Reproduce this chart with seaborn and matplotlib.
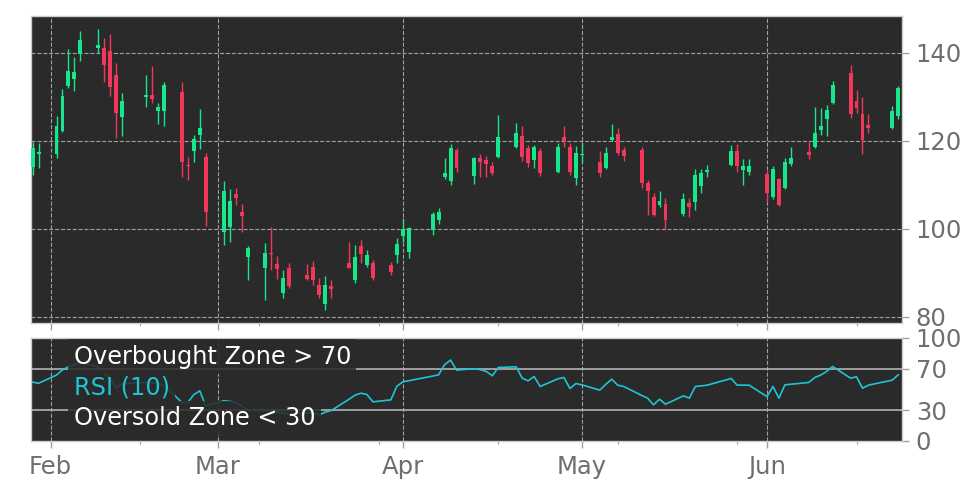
import pandas as pd
import numpy as np
import matplotlib
matplotlib.use('Agg')
import matplotlib.pyplot as plt
import matplotlib.dates as mdates
import matplotlib.ticker as mticker
import seaborn as sns

# trading days shown (US market holidays left out)
holidays = ['2026-02-16', '2026-04-03', '2026-05-25', '2026-06-19']
dates = pd.bdate_range('2026-01-29', '2026-06-23', freq='C', holidays=holidays)

opens = [114.1, 117.0, 117.0, 122.3, 132.5, 134.1, 139.7, 141.2, 141.1, 140.5,
         135.0, 125.5, 130.0, 130.5, 126.9, 126.9, 131.1, 114.6, 117.6, 121.4,
         116.4, 99.4, 100.4, 108.0, 103.9, 93.7, 91.1, 94.4, 92.0, 85.4,
         91.1, 89.5, 91.4, 87.3, 83.0, 87.1, 92.2, 88.4, 96.1, 91.7,
         92.2, 91.7, 94.1, 98.3, 94.8, 99.8, 102.0, 111.9, 110.9, 118.0,
         112.1, 116.1, 115.7, 114.4, 116.4, 118.7, 121.1, 118.3, 115.7, 117.7,
         113.0, 120.8, 118.7, 111.5, 116.7, 115.1, 113.8, 120.2, 121.6, 118.0,
         118.0, 110.5, 107.3, 105.5, 105.7, 103.3, 105.8, 106.1, 109.8, 113.0,
         114.5, 117.7, 113.3, 113.0, 112.5, 107.3, 111.3, 109.4, 114.8, 117.4,
         118.7, 122.5, 124.9, 128.7, 135.5, 129.1, 126.1, 123.6, 123.0, 125.7]
highs = [119.8, 119.5, 125.7, 131.7, 140.8, 139.0, 145.0, 145.4, 143.5, 144.3,
         137.8, 130.8, 135.0, 137.1, 128.6, 133.5, 133.5, 116.4, 121.4, 127.2,
         117.2, 110.8, 109.0, 109.2, 105.7, 96.0, 96.7, 100.5, 93.9, 90.7,
         92.2, 92.0, 92.6, 88.8, 89.2, 88.4, 97.1, 96.4, 97.5, 95.1,
         93.0, 92.5, 97.9, 102.4, 100.5, 103.9, 104.7, 116.1, 119.3, 118.3,
         116.4, 117.0, 116.6, 115.3, 125.9, 124.0, 123.3, 119.1, 119.1, 118.3,
         119.5, 123.4, 119.5, 118.9, 119.8, 117.6, 118.7, 123.8, 123.0, 118.7,
         118.7, 111.1, 108.1, 108.7, 107.0, 108.1, 107.0, 113.6, 113.6, 114.5,
         119.1, 119.3, 115.8, 115.9, 113.4, 114.2, 111.5, 116.1, 118.7, 119.8,
         127.7, 127.4, 128.2, 133.6, 137.3, 131.6, 129.9, 126.1, 128.0, 132.5]
lows = [112.3, 113.9, 116.1, 122.0, 132.0, 131.4, 138.2, 139.9, 133.3, 130.1,
        120.6, 121.1, 127.7, 128.6, 123.9, 123.3, 111.9, 111.1, 115.1, 118.1,
        100.7, 96.4, 97.1, 105.5, 99.2, 88.4, 83.9, 90.7, 88.6, 84.3,
        86.5, 88.4, 87.3, 84.3, 81.6, 84.3, 91.0, 87.8, 92.2, 91.4,
        88.4, 89.6, 92.2, 97.1, 93.3, 98.6, 101.1, 111.4, 110.0, 113.0,
        110.2, 111.9, 111.8, 112.3, 116.2, 118.5, 115.5, 114.0, 113.8, 112.0,
        112.8, 118.7, 112.3, 110.0, 115.0, 111.8, 113.5, 119.9, 116.8, 115.5,
        109.3, 103.2, 103.0, 105.0, 99.8, 103.0, 102.8, 104.2, 108.1, 111.9,
        114.2, 113.0, 110.0, 112.3, 106.2, 106.7, 105.2, 109.0, 114.2, 115.8,
        118.5, 121.4, 121.1, 128.5, 125.2, 126.3, 117.0, 121.8, 122.8, 125.0]
closes = [118.4, 117.5, 123.4, 130.2, 135.9, 135.7, 143.0, 141.8, 137.3, 132.3,
          126.3, 129.1, 130.5, 129.5, 127.8, 132.7, 115.1, 114.2, 120.5, 123.0,
          103.9, 108.7, 106.4, 107.0, 103.0, 95.6, 94.6, 94.2, 90.8, 88.8,
          87.1, 88.6, 88.4, 85.0, 87.3, 86.3, 91.2, 93.7, 94.3, 94.1,
          88.8, 90.1, 96.6, 99.9, 100.2, 103.4, 103.8, 112.8, 118.5, 113.8,
          116.2, 115.3, 114.8, 112.7, 120.8, 121.9, 116.4, 114.9, 118.7, 112.8,
          118.7, 119.9, 113.0, 117.2, 117.0, 112.7, 117.2, 121.0, 117.2, 116.6,
          110.5, 108.5, 103.2, 106.4, 102.0, 106.7, 104.9, 112.3, 112.7, 113.3,
          117.7, 114.2, 114.2, 114.4, 108.1, 113.6, 105.5, 115.2, 116.2, 116.8,
          121.7, 123.4, 127.0, 132.7, 126.1, 127.4, 120.1, 122.9, 126.8, 132.0]
rsi = [57.2, 56.0, 64.0, 69.0, 72.0, 74.0, 76.0, 72.0, 66.0, 60.0,
       52.0, 55.5, 57.0, 56.5, 56.0, 54.0, 37.5, 37.3, 45.0, 48.7,
       34.0, 39.0, 38.5, 37.5, 34.0, 30.2, 29.3, 28.8, 28.0, 27.2,
       26.2, 27.5, 27.0, 25.2, 28.0, 29.5, 40.5, 44.5, 46.4, 45.1,
       38.0, 39.9, 53.0, 57.4, 58.5, 63.0, 64.2, 74.0, 78.6, 68.8,
       70.2, 69.2, 67.5, 63.3, 71.4, 72.0, 61.0, 58.4, 62.6, 52.9,
       60.4, 61.6, 50.9, 55.8, 54.5, 49.4, 55.0, 60.0, 54.2, 52.9,
       44.3, 41.6, 35.1, 40.6, 35.7, 43.8, 41.6, 52.9, 53.5, 54.2,
       60.7, 54.2, 54.2, 54.2, 43.1, 52.9, 41.6, 54.5, 55.1, 56.8,
       61.6, 64.0, 67.5, 72.3, 61.0, 62.3, 51.3, 54.2, 59.1, 64.3]

minor_days = ['2026-02-16', '2026-03-08', '2026-03-28', '2026-04-17',
              '2026-05-07', '2026-05-27', '2026-06-16']

df = pd.DataFrame({'date': dates, 'open': opens, 'high': highs,
                   'low': lows, 'close': closes, 'rsi': rsi})

bg = '#2a2a2a'
green = '#17e68a'
red = '#f2385a'
grey_txt = '#6e6e6e'
sns.set_style('dark')

fig = plt.figure(figsize=(9.72, 4.86), dpi=100)
ax1 = fig.add_axes([0.0319, 0.3354, 0.896, 0.6317])
ax2 = fig.add_axes([0.0319, 0.0926, 0.896, 0.212])

# candles
up = df['close'] >= df['open']
cols = np.where(up, green, red)
ax1.vlines(df['date'], df['low'], df['high'], colors=cols, lw=1, zorder=3)
body = np.maximum((df['close'] - df['open']).abs(), 0.4)
ax1.bar(df['date'], body, bottom=np.minimum(df['open'], df['close']),
        width=0.66, color=cols, edgecolor='none', linewidth=0, zorder=4)

# rsi
ax2.axhline(70, color='#a8a8a8', lw=1.3, zorder=1)
ax2.axhline(30, color='#a8a8a8', lw=1.3, zorder=1)
sns.lineplot(data=df, x='date', y='rsi', ax=ax2, color='#1fc4d4', lw=1.2, zorder=2)

box = dict(boxstyle='square,pad=0.22', fc=bg, ec='none', alpha=0.86)
ax2.text(0.049, 0.75, 'Overbought Zone > 70', transform=ax2.transAxes,
         color='white', fontsize=17.3, va='baseline', bbox=box, zorder=5)
ax2.text(0.049, 0.447, 'RSI (10)', transform=ax2.transAxes,
         color='#1fc4d4', fontsize=17.3, va='baseline', bbox=box, zorder=5)
ax2.text(0.049, 0.155, 'Oversold Zone < 30', transform=ax2.transAxes,
         color='white', fontsize=17.3, va='baseline', bbox=box, zorder=5)

xmin = pd.Timestamp('2026-01-28 17:30')
xmax = pd.Timestamp('2026-06-23 14:30')
minor_loc = mticker.FixedLocator(mdates.date2num(pd.to_datetime(minor_days)))

for ax in (ax1, ax2):
    ax.set_facecolor(bg)
    ax.set_xlim(xmin, xmax)
    ax.xaxis.set_major_locator(mdates.MonthLocator())
    ax.xaxis.set_major_formatter(mdates.DateFormatter('%b'))
    ax.xaxis.set_minor_locator(minor_loc)
    ax.yaxis.tick_right()
    ax.tick_params(which='major', direction='out', length=5, width=1,
                   color='#a0a0a0', labelcolor=grey_txt, labelsize=17.5, pad=5,
                   bottom=True, right=True, left=False)
    ax.tick_params(which='minor', direction='out', length=2.5, width=0.8,
                   color='#a0a0a0', bottom=True)
    ax.set_xlabel('')
    ax.set_ylabel('')
    for s in ax.spines.values():
        s.set_color('#cccccc')
        s.set_linewidth(1)

ax1.set_ylim(78.6, 148.4)
ax1.set_yticks([80, 100, 120, 140])
ax1.tick_params(labelbottom=False)
ax1.grid(True, which='major', ls='--', color='#b4b4b4', lw=0.8, alpha=0.85)

ax2.set_ylim(0, 100)
ax2.set_yticks([0, 30, 70, 100])
ax2.grid(False)
ax2.grid(True, axis='x', which='major', ls='--', color='#b4b4b4', lw=0.8, alpha=0.85)

fig.savefig('out.png', dpi=100)
